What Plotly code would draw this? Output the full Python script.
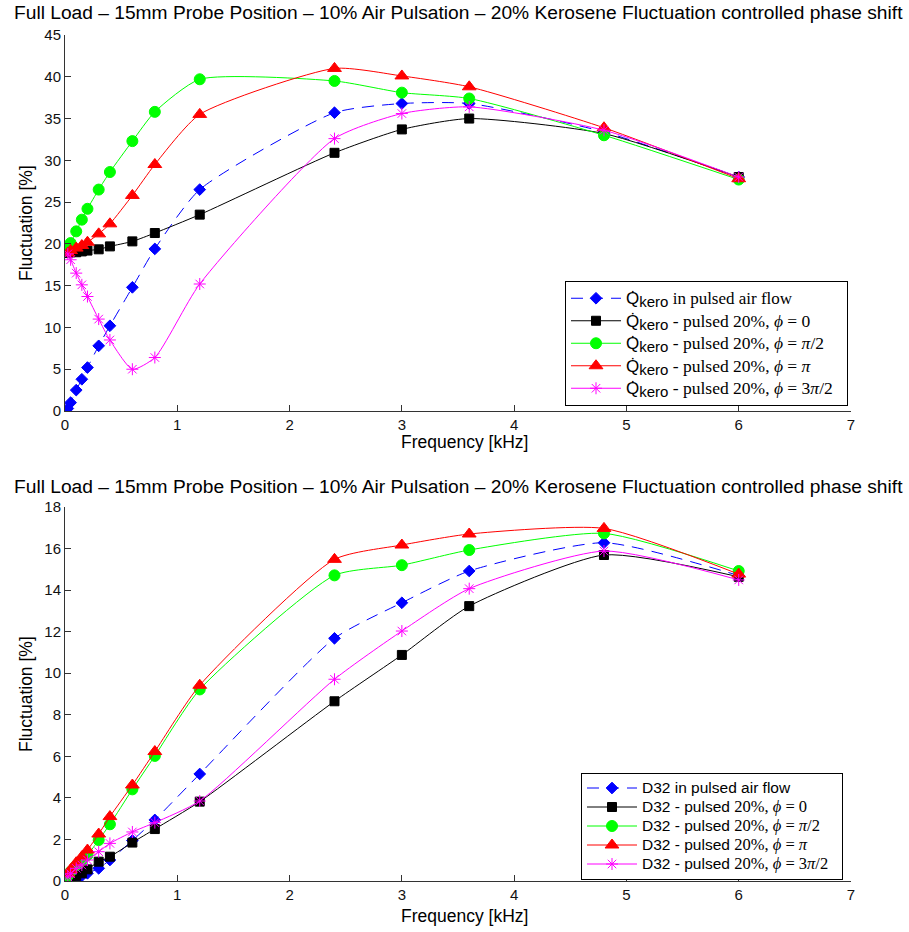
import plotly.graph_objects as go

# ---------------- data ----------------
freq = [0.025, 0.05, 0.1, 0.15, 0.2, 0.3, 0.4, 0.6, 0.8, 1.2, 2.4, 3.0, 3.6, 4.8, 6.0]

# top panel: Q_kero fluctuation [%]
q_air    = [0.3, 1.0, 2.5, 3.8, 5.2, 7.8, 10.2, 14.8, 19.4, 26.5, 35.7, 36.8, 36.8, 33.4, 28.0]
q_phi0   = [18.9, 19.0, 19.0, 19.1, 19.2, 19.35, 19.7, 20.3, 21.3, 23.5, 30.9, 33.7, 35.0, 33.2, 28.0]
q_phi90  = [19.6, 20.1, 21.5, 22.9, 24.2, 26.5, 28.6, 32.3, 35.8, 39.7, 39.5, 38.1, 37.4, 33.0, 27.7]
q_phi180 = [18.9, 19.2, 19.5, 19.8, 20.2, 21.2, 22.4, 25.8, 29.5, 35.5, 41.0, 40.1, 38.8, 33.9, 27.8]
q_phi270 = [18.8, 18.1, 16.5, 15.1, 13.7, 11.0, 8.5, 5.0, 6.4, 15.2, 32.6, 35.6, 36.4, 33.6, 28.0]

# bottom panel: D32 fluctuation [%]
d_air    = [0.05, 0.08, 0.15, 0.25, 0.37, 0.61, 1.01, 1.95, 2.94, 5.15, 11.68, 13.39, 14.92, 16.28, 14.7]
d_phi0   = [0.05, 0.12, 0.25, 0.37, 0.56, 0.93, 1.17, 1.85, 2.50, 3.82, 8.65, 10.88, 13.23, 15.69, 14.64]
d_phi90  = [0.25, 0.45, 0.75, 1.0, 1.25, 1.97, 2.73, 4.41, 6.02, 9.22, 14.71, 15.2, 15.93, 16.73, 14.92]
d_phi180 = [0.35, 0.55, 0.88, 1.17, 1.49, 2.26, 3.10, 4.62, 6.23, 9.42, 15.48, 16.17, 16.70, 16.97, 14.77]
d_phi270 = [0.2, 0.35, 0.61, 0.77, 1.01, 1.41, 1.81, 2.36, 2.81, 3.85, 9.71, 12.03, 14.07, 15.88, 14.49]

title_text = "Full Load – 15mm Probe Position – 10% Air Pulsation – 20% Kerosene Fluctuation controlled phase shift"
x_label = "Frequency [kHz]"
y_label = "Fluctuation [%]"

SERIF = "Liberation Serif"
SANS = "Liberation Sans"

def span(s, size, family):
    return f"<span style='font-family:{family};font-size:{size}px'>{s}</span>"

EQ = "&nbsp;=&nbsp;"
TAIL = "&nbsp;&nbsp;"
Q = span("Q̇", 17, SANS) + "<sub>" + span("kero", 15, SANS) + "</sub>"
top_names = [
    Q + span(" in pulsed air flow" + TAIL, 17, SERIF),
    Q + span(f" - pulsed 20%, <i>ϕ</i>{EQ}0" + TAIL, 17.5, SERIF),
    Q + span(f" - pulsed 20%, <i>ϕ</i>{EQ}<i>π</i>/2" + TAIL, 17.5, SERIF),
    Q + span(f" - pulsed 20%, <i>ϕ</i>{EQ}<i>π</i>" + TAIL, 17.5, SERIF),
    Q + span(f" - pulsed 20%, <i>ϕ</i>{EQ}3<i>π</i>/2" + TAIL, 17.5, SERIF),
]
D = lambda s: span(s, 15.5, SANS)
bot_names = [
    D("D32 in pulsed air flow"),
    D("D32 - pulsed ") + span(f"20%, <i>ϕ</i>{EQ}0", 16.5, SERIF),
    D("D32 - pulsed ") + span(f"20%, <i>ϕ</i>{EQ}<i>π</i>/2", 16.5, SERIF),
    D("D32 - pulsed ") + span(f"20%, <i>ϕ</i>{EQ}<i>π</i>", 16.5, SERIF),
    D("D32 - pulsed ") + span(f"20%, <i>ϕ</i>{EQ}3<i>π</i>/2" + TAIL, 16.5, SERIF),
]

styles = [
    dict(color="#0000ff", dash="12px,8px", symbol="diamond", size=9),
    dict(color="#000000", dash="solid", symbol="square", size=9),
    dict(color="#00ff00", dash="solid", symbol="circle", size=11),
    dict(color="#ff0000", dash="solid", symbol="triangle-up", size=12),
    dict(color="#ff00ff", dash="solid", symbol="asterisk-open", size=10),
]

SMOOTH = 0.6

fig = go.Figure()

for vals, name, st in zip([q_air, q_phi0, q_phi90, q_phi180, q_phi270], top_names, styles):
    fig.add_trace(go.Scatter(
        x=freq, y=vals, name=name, mode="lines+markers",
        line=dict(color=st["color"], width=1, dash=st["dash"], shape="spline", smoothing=SMOOTH),
        marker=dict(symbol=st["symbol"], size=st["size"], color=st["color"],
                    line=dict(color=st["color"], width=1)),
        xaxis="x", yaxis="y", legend="legend"))

for vals, name, st in zip([d_air, d_phi0, d_phi90, d_phi180, d_phi270], bot_names, styles):
    fig.add_trace(go.Scatter(
        x=freq, y=vals, name=name, mode="lines+markers",
        line=dict(color=st["color"], width=1, dash=st["dash"], shape="spline", smoothing=SMOOTH),
        marker=dict(symbol=st["symbol"], size=st["size"], color=st["color"],
                    line=dict(color=st["color"], width=1)),
        xaxis="x2", yaxis="y2", legend="legend2"))

W, H = 909, 932

def px(xp):
    return xp / W

def py(yp):
    return (H - yp) / H

xd = [px(65), px(851)]
axis_common = dict(showline=True, linecolor="#333333", linewidth=1, ticks="inside",
                   ticklen=6, tickcolor="#333333", showgrid=False, zeroline=False,
                   mirror=False, automargin=False,
                   tickfont=dict(family=SANS, size=15, color="#111"))

fig.update_layout(
    width=W, height=H, margin=dict(l=0, r=0, t=0, b=0, pad=0, autoexpand=False),
    paper_bgcolor="white", plot_bgcolor="white",
    font=dict(family=SANS, size=14, color="#000"),
    xaxis=dict(domain=xd, range=[0, 7], dtick=1, anchor="y", **axis_common),
    yaxis=dict(domain=[py(411), py(35)], range=[0, 45], dtick=5, anchor="x", **axis_common),
    xaxis2=dict(domain=xd, range=[0, 7], dtick=1, anchor="y2", **axis_common),
    yaxis2=dict(domain=[py(881), py(507)], range=[0, 18], dtick=2, anchor="x2", **axis_common),
    legend=dict(x=px(848), y=py(343.5), xanchor="right", yanchor="middle",
                bgcolor="white", bordercolor="#000", borderwidth=1, itemwidth=50,
                font=dict(family=SANS, size=15), tracegroupgap=0),
    legend2=dict(x=px(843), y=py(826), xanchor="right", yanchor="middle",
                 bgcolor="white", bordercolor="#000", borderwidth=1, itemwidth=50,
                 font=dict(family=SANS, size=12.3), tracegroupgap=0),
    showlegend=True,
)

annots = [
    dict(text=title_text, x=458, y=12, size=19.2, angle=0),
    dict(text=title_text, x=458, y=486, size=19.2, angle=0),
    dict(text=x_label, x=464, y=442, size=17.5, angle=0),
    dict(text=x_label, x=464, y=916, size=17.5, angle=0),
    dict(text=y_label, x=26, y=223, size=17.5, angle=-90),
    dict(text=y_label, x=26, y=694, size=17.5, angle=-90),
]
for a in annots:
    fig.add_annotation(text=a["text"], x=px(a["x"]), y=py(a["y"]), xref="paper", yref="paper",
                       xanchor="center", yanchor="middle", showarrow=False, textangle=a["angle"],
                       font=dict(family=SANS, size=a["size"], color="#000"))

fig.write_html("out.html", config={"displayModeBar": False},
               post_script="document.body.style.margin='0';document.body.style.overflow='hidden';")
